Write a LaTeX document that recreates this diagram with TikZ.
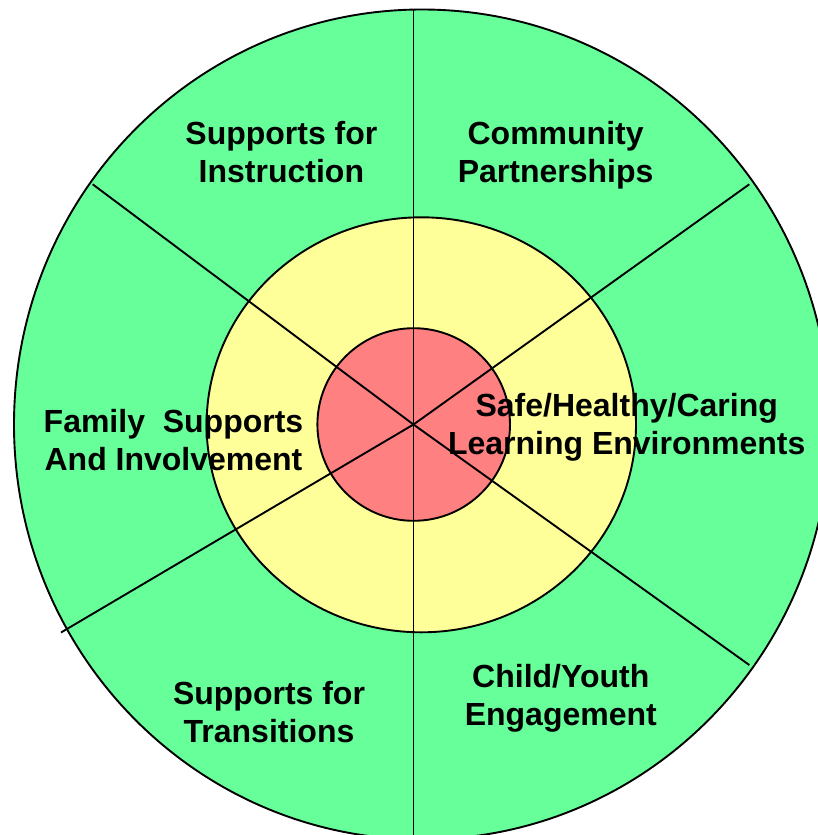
\documentclass[tikz,border=0pt]{standalone}
\usepackage{fontspec}
\setmainfont{Liberation Sans}
\definecolor{ringgreen}{RGB}{102,255,153}
\definecolor{ringyellow}{RGB}{255,255,153}
\definecolor{ringred}{RGB}{255,128,128}
\begin{document}
\begin{tikzpicture}[x=1bp,y=-1bp,
  lbl/.style={align=center,font=\fontsize{32bp}{37.8bp}\selectfont\bfseries,anchor=base,inner sep=0pt},
  ring/.style={draw=black,line width=1.9bp},
  spoke/.style={draw=black,line width=1.9bp}]
\useasboundingbox (0,0) rectangle (818,835);
\clip (0,0) rectangle (818,835);
\coordinate (c) at (413.5,424.5);
\coordinate (top) at (413.5,9);
\coordinate (bot) at (413.5,845);
\coordinate (tl) at (92.7,184.3);
\coordinate (tr) at (749.3,184.3);
\coordinate (br) at (749.3,665);
\coordinate (bl) at (61,632.5);
\path[ring,fill=ringgreen] (422,424.5) ellipse [x radius=408bp, y radius=415bp];
\path[ring,fill=ringyellow] (421.3,424.8) ellipse [x radius=214.7bp, y radius=207.5bp];
\path[ring,fill=ringred] (413.7,424.5) circle [radius=96.3bp];
\draw[spoke] (c) -- (top);
\draw[spoke] (c) -- (bot);
\draw[spoke] (c) -- (tl);
\draw[spoke] (c) -- (tr);
\draw[spoke] (c) -- (br);
\draw[spoke] (c) -- (bl);
\node[lbl] (instr) at (281.4,182.6) {Supports for\\Instruction};
\node[lbl] (comm) at (555.6,182.6) {Community\\Partnerships};
\node[lbl] (family) at (173.5,470.5) {Family\ \ Supports\\And Involvement};
\node[lbl] (safe) at (626.7,454) {Safe/Healthy/Caring\\Learning Environments};
\node[lbl] (trans) at (269,742) {Supports for\\Transitions};
\node[lbl] (child) at (560.8,725) {Child/Youth\\Engagement};
\end{tikzpicture}
\end{document}
